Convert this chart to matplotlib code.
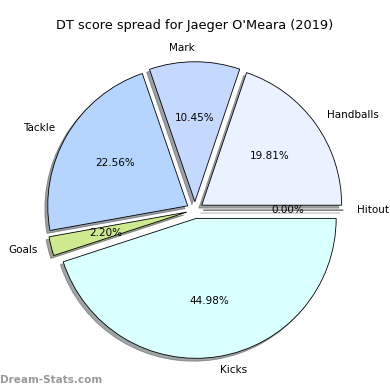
import matplotlib
matplotlib.use("Agg")
import matplotlib.pyplot as plt

# ─── Data ────────────────────────────────────────────────────────────────────
categories = ["Handballs", "Mark", "Tackle", "Goals", "Kicks", "Hitout"]
shares = [19.81, 10.45, 22.56, 2.20, 44.98, 0.00]
colors = ["#eaf2ff", "#c5d9ff", "#b5d5ff", "#cdea90", "#d9ffff", "#ffffff"]
explode = [0.06] * len(categories)

TITLE = "DT score spread for Jaeger O'Meara (2019)"

fig = plt.figure(figsize=(5.2, 5.2), dpi=75)
ax = fig.add_axes([0.0513, 0.0128, 0.897, 0.897])

ax.pie(shares, labels=categories, colors=colors, explode=explode,
       autopct="%1.2f%%", shadow=True, startangle=0,
       wedgeprops={"edgecolor": "black", "linewidth": 0.8},
       textprops={"fontsize": 10})
ax.set_aspect("equal")
ax.set_title(TITLE, fontsize=12.4)

fig.text(0.0, 0.013, "Dream-Stats.com", fontsize=10, color="#999999",
         fontweight="bold", ha="left", va="bottom")

plt.savefig("out.png", dpi=75)
plt.close()
